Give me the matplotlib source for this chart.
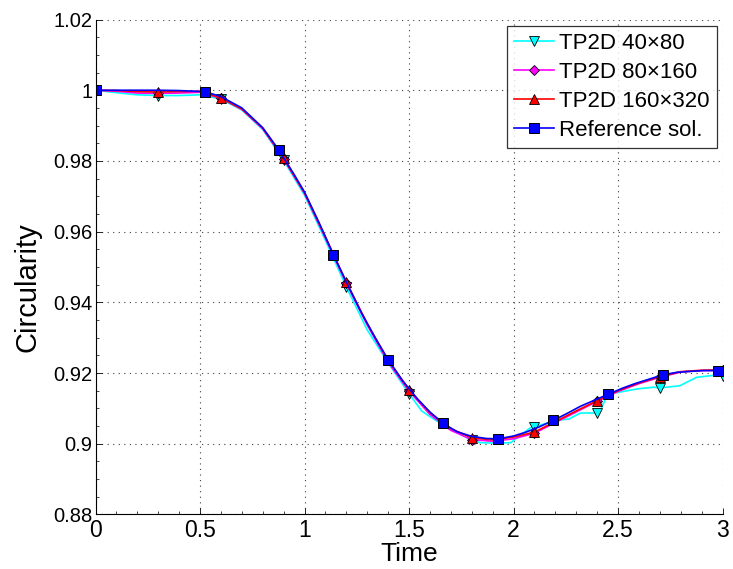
import numpy as np
import matplotlib
matplotlib.use("Agg")
import matplotlib.pyplot as plt
from matplotlib.ticker import MultipleLocator, FuncFormatter

plt.rcParams['font.family'] = ['Liberation Sans', 'DejaVu Sans']

# ---- data ----
t_tp = [0.0, 0.1, 0.2, 0.3, 0.4, 0.5, 0.6, 0.7, 0.8, 0.9, 1.0, 1.1, 1.2, 1.3, 1.4, 1.5,
        1.6, 1.7, 1.8, 1.9, 2.0, 2.1, 2.2, 2.3, 2.4, 2.5, 2.6, 2.7, 2.8, 2.9, 3.0]

c_80x160 = [1.0, 0.9997, 0.9992, 0.9991, 0.9992, 0.9994, 0.9977, 0.9946, 0.9891, 0.9806,
            0.9708, 0.9582, 0.9454, 0.9336, 0.9231, 0.9149, 0.9083, 0.9038, 0.9012, 0.9007,
            0.9014, 0.9030, 0.9060, 0.9090, 0.9120, 0.9148, 0.9170, 0.9188, 0.9203, 0.9207,
            0.9208]

c_160x320 = [1.0, 0.9999, 0.9996, 0.9995, 0.9996, 0.9997, 0.9978, 0.9947, 0.9893, 0.9808,
             0.9710, 0.9585, 0.9457, 0.9340, 0.9236, 0.9153, 0.9088, 0.9043, 0.9017, 0.9011,
             0.9019, 0.9033, 0.9063, 0.9093, 0.9122, 0.9150, 0.9172, 0.9190, 0.9204, 0.9208,
             0.9209]

t_40x80 = [0.0, 0.1, 0.2, 0.3, 0.4, 0.5, 0.6, 0.7, 0.8, 0.9, 1.0, 1.1, 1.2, 1.3, 1.408,
           1.5, 1.56, 1.605, 1.67, 1.8, 1.843, 1.9, 1.986, 2.08, 2.1, 2.146, 2.2, 2.265,
           2.32, 2.376, 2.4, 2.42, 2.45, 2.59, 2.67, 2.7, 2.795, 2.876, 2.95, 3.0]
c_40x80 = [1.0, 0.9993, 0.9987, 0.9985, 0.9985, 0.9987, 0.9975, 0.9944, 0.9889, 0.9802,
           0.9703, 0.9575, 0.9444, 0.9322, 0.9222, 0.9142, 0.9093, 0.9075, 0.9051, 0.9010,
           0.9003, 0.9002, 0.9003, 0.9045, 0.9048, 0.9056, 0.9066, 0.9070, 0.9087, 0.9087,
           0.9088, 0.9100, 0.9140, 0.9155, 0.9160, 0.9158, 0.9164, 0.9188, 0.9193, 0.9193]

t_ref = [0.0, 0.1, 0.2, 0.3, 0.4, 0.524, 0.6, 0.7, 0.8, 0.876, 0.95, 1.0, 1.07, 1.138,
         1.2, 1.27, 1.34, 1.40, 1.47, 1.54, 1.60, 1.662, 1.73, 1.8, 1.87, 1.927, 2.0, 2.06,
         2.12, 2.19, 2.26, 2.32, 2.39, 2.453, 2.52, 2.58, 2.65, 2.714, 2.78, 2.85, 2.91,
         2.976, 3.0]
c_ref = [1.0, 1.0, 1.0, 1.0, 0.9999, 0.9996, 0.9982, 0.9950, 0.9894, 0.9832, 0.9762, 0.9712,
         0.9625, 0.9535, 0.9458, 0.9373, 0.9298, 0.9238, 0.9178, 0.9127, 0.9090, 0.9058,
         0.9034, 0.9021, 0.9015, 0.9014, 0.9022, 0.9033, 0.9047, 0.9066, 0.9087, 0.9106,
         0.9124, 0.9140, 0.9157, 0.9170, 0.9183, 0.9195, 0.9202, 0.9205, 0.9207, 0.9207,
         0.9208]
ref_marker_t = [0.0, 0.524, 0.876, 1.138, 1.40, 1.662, 1.927, 2.19, 2.453, 2.714, 2.976]
tp_marker_t = [0.3, 0.6, 0.9, 1.2, 1.5, 1.8, 2.1, 2.4, 2.7, 3.0]

labels = ['TP2D 40\u00d780', 'TP2D 80\u00d7160', 'TP2D 160\u00d7320', 'Reference sol.']
x_ticks = [0, 0.5, 1, 1.5, 2, 2.5, 3]
y_ticks = [0.88, 0.90, 0.92, 0.94, 0.96, 0.98, 1.00, 1.02]


def mark_idx(t, mt):
    t = np.asarray(t)
    return [int(np.argmin(np.abs(t - m))) for m in mt]


fig = plt.figure(figsize=(7.33, 5.69), dpi=100)
ax = fig.add_axes([0.1303, 0.0958, 0.9857 - 0.1303, 0.9657 - 0.0958])

lw = 1.2
ax.plot(t_40x80, c_40x80, color='#00FFFF', lw=lw, marker='v', ms=6.5, mfc='#00FFFF',
        mec='k', mew=0.6, markevery=mark_idx(t_40x80, tp_marker_t), label=labels[0])
ax.plot(t_tp, c_80x160, color='#FF00FF', lw=lw, marker='D', ms=5, mfc='#FF00FF',
        mec='k', mew=0.6, markevery=mark_idx(t_tp, tp_marker_t), label=labels[1])
ax.plot(t_tp, c_160x320, color='#FF0000', lw=lw, marker='^', ms=6.5, mfc='#FF0000',
        mec='k', mew=0.6, markevery=mark_idx(t_tp, tp_marker_t), label=labels[2])
ax.plot(t_ref, c_ref, color='#0000FF', lw=lw, marker='s', ms=7.5, mfc='#0000FF',
        mec='k', mew=0.7, markevery=mark_idx(t_ref, ref_marker_t), label=labels[3])

ax.set_xlim(0, 3)
ax.set_ylim(0.88, 1.02)
ax.set_xticks(x_ticks)
ax.set_yticks(y_ticks)
ax.xaxis.set_major_formatter(FuncFormatter(lambda v, p: '%g' % v))
ax.yaxis.set_major_formatter(FuncFormatter(lambda v, p: '%g' % round(v, 4)))
ax.xaxis.set_minor_locator(MultipleLocator(0.1))
ax.yaxis.set_minor_locator(MultipleLocator(0.005))
ax.tick_params(which='both', direction='in', top=False, right=False, colors='k')
ax.tick_params(axis='y', labelsize=14.5, pad=2)
ax.tick_params(axis='x', labelsize=16.5, pad=3)
ax.tick_params(which='major', length=4, width=0.6)
ax.tick_params(which='minor', length=2, width=0.5)

ax.spines['top'].set_visible(False)
ax.spines['right'].set_visible(False)
ax.spines['left'].set_linewidth(0.8)
ax.spines['bottom'].set_linewidth(0.8)

ax.grid(True, which='major', linestyle=(0, (1, 4)), color='0.25', linewidth=0.8)
ax.set_axisbelow(True)

ax.set_xlabel('Time', fontsize=19)
ax.xaxis.set_label_coords(0.5, -0.056)
ax.set_ylabel('Circularity', fontsize=21)
ax.yaxis.set_label_coords(-0.086, 0.46)

leg = ax.legend(loc='upper right', bbox_to_anchor=(0.991, 0.987), borderaxespad=0,
                fontsize=16, frameon=True, fancybox=False, edgecolor='k',
                handlelength=1.8, handletextpad=0.25, labelspacing=0.36,
                borderpad=0.32)
leg.get_frame().set_linewidth(0.9)

fig.savefig('out.png', dpi=100)
